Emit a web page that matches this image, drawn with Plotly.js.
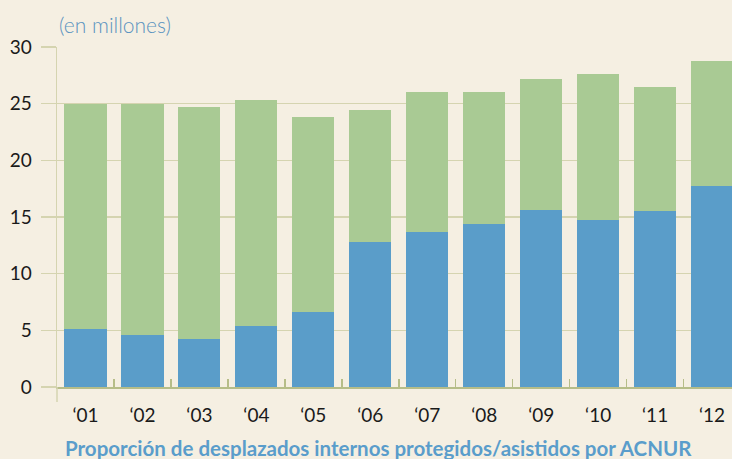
<!DOCTYPE html>
<html>
<head>
<meta charset="utf-8">
<script src="https://cdn.plot.ly/plotly-3.0.1.min.js"></script>
<style>
html,body{margin:0;padding:0;background:#F5EFE2;}
#chart{width:732px;height:459px;}
</style>
</head>
<body>
<div id="chart"></div>
<script>
// Data (millions)
const years = ["\u201801","\u201802","\u201803","\u201804","\u201805","\u201806","\u201807","\u201808","\u201809","\u201810","\u201811","\u201812"];
const protectedIDPs = [5.1, 4.6, 4.2, 5.4, 6.6, 12.8, 13.7, 14.4, 15.6, 14.7, 15.5, 17.7];
const otherIDPs = [19.9, 20.4, 20.5, 19.9, 17.2, 11.6, 12.3, 11.6, 11.6, 12.9, 11.0, 11.1];
const yTicks = [0, 5, 10, 15, 20, 25, 30];

const bg = '#F5EFE2';
const gridCol = '#D5D4B0';
const axisCol = '#B6BD88';

const traces = [
  {type:'bar', x: years, y: protectedIDPs, marker:{color:'#5A9DC9'}, name:'protegidos/asistidos', hoverinfo:'skip'},
  {type:'bar', x: years, y: otherIDPs, marker:{color:'#A9CA94'}, name:'otros', hoverinfo:'skip'}
];

const layout = {
  width: 732, height: 459,
  paper_bgcolor: bg, plot_bgcolor: bg,
  margin: {l:57, r:0, t:47, b:72, pad:0},
  barmode: 'stack',
  bargap: 0.26,
  showlegend: false,
  font: {family:'Lato, "Open Sans", sans-serif', color:'#1a1a1a'},
  xaxis: {
    type:'category', range:[-0.5, 11.35],
    tickson:'boundaries', ticks:'inside', ticklen:8, tickwidth:1.5, tickcolor: axisCol,
    showline:true, linecolor: axisCol, linewidth:1.5,
    showgrid:false, zeroline:false,
    tickfont:{size:19, color:'#1a1a1a'},
    ticklabelstandoff: 11
  },
  yaxis: {
    range:[0,30], tickvals: yTicks, ticktext: yTicks.map(String),
    showgrid:true, gridcolor: gridCol, gridwidth:1.5,
    showline:true, linecolor: gridCol, linewidth:1.5,
    ticks:'outside', ticklen:15, tickwidth:1.5, tickcolor: gridCol,
    zeroline:false,
    tickfont:{size:19, color:'#1a1a1a'},
    ticklabelstandoff: 5
  },
  shapes: [
    {type:'line', xref:'paper', yref:'paper', x0:0, x1:0, y0:0, y1:-0.044, line:{color:gridCol, width:1.5}}
  ],
  annotations: [
    {text:'(en millones)', xref:'paper', yref:'paper', x:0, y:1.065, xanchor:'left', yanchor:'middle', showarrow:false,
     font:{size:21, color:'#5A93C0', family:'Lato, "Open Sans", sans-serif', weight:300}},
    {text:'Proporción de desplazados internos protegidos/asistidos por ACNUR', xref:'paper', yref:'paper', x:0.477, y:-0.178,
     xanchor:'center', yanchor:'middle', showarrow:false,
     font:{size:20.5, color:'#5A9DCB', family:'Lato, "Open Sans", sans-serif', weight:'bold'}}
  ]
};

Plotly.newPlot('chart', traces, layout, {displayModeBar:false, staticPlot:true});
</script>
</body>
</html>
